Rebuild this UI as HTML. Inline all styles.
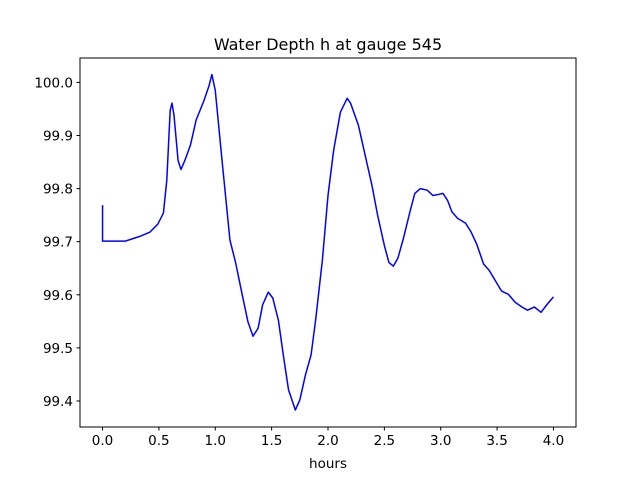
<!DOCTYPE html>
<html><head><meta charset="utf-8"><style>
body{margin:0;background:#fff;}
svg{display:block;font-family:"DejaVu Sans","Liberation Sans",sans-serif;}
</style></head><body>
<svg width="640" height="480" viewBox="0 0 640 480" xmlns="http://www.w3.org/2000/svg" id="chart">
<rect width="640" height="480" fill="#fff"/>
<text x="328" y="50" text-anchor="middle" font-size="16">Water Depth h at gauge 545</text>
<g id="plot"></g>
<text x="328" y="468" text-anchor="middle" font-size="13.5">hours</text>
</svg>
<script>
const times=[0,0,0.2,0.33,0.42,0.49,0.54,0.57,0.60,0.616,0.634,0.67,0.696,0.73,0.78,0.83,0.90,0.945,0.97,1.0,1.06,1.13,1.18,1.24,1.29,1.335,1.38,1.42,1.47,1.51,1.56,1.61,1.65,1.71,1.75,1.80,1.85,1.89,1.95,2.0,2.05,2.11,2.17,2.20,2.27,2.34,2.39,2.44,2.50,2.54,2.58,2.62,2.67,2.73,2.77,2.82,2.88,2.93,2.98,3.02,3.06,3.10,3.15,3.22,3.27,3.32,3.38,3.43,3.48,3.54,3.60,3.66,3.72,3.77,3.83,3.89,3.94,4.0];
const depth=[99.769,99.701,99.701,99.710,99.718,99.733,99.754,99.816,99.947,99.961,99.938,99.853,99.836,99.853,99.882,99.929,99.966,99.994,100.015,99.985,99.853,99.703,99.661,99.599,99.549,99.522,99.537,99.581,99.605,99.594,99.552,99.477,99.421,99.383,99.402,99.449,99.487,99.552,99.665,99.787,99.872,99.944,99.970,99.961,99.919,99.853,99.806,99.750,99.693,99.661,99.654,99.669,99.707,99.759,99.791,99.800,99.797,99.787,99.789,99.791,99.778,99.756,99.744,99.735,99.718,99.695,99.658,99.646,99.628,99.607,99.601,99.586,99.577,99.571,99.577,99.567,99.581,99.596];
const xTicks=[0,0.5,1,1.5,2,2.5,3,3.5,4];
const xTickLabels=["0.0","0.5","1.0","1.5","2.0","2.5","3.0","3.5","4.0"];
const yTicks=[99.4,99.5,99.6,99.7,99.8,99.9,100.0];
const yTickLabels=["99.4","99.5","99.6","99.7","99.8","99.9","100.0"];

const L=80,R=576,T=58,B=427;
const xMin=-0.2,xMax=4.2,yMin=99.351,yMax=100.046;
const xs=v=>L+(v-xMin)/(xMax-xMin)*(R-L);
const ys=v=>B-(v-yMin)/(yMax-yMin)*(B-T);
const NS="http://www.w3.org/2000/svg";
const g=document.getElementById('plot');
function mk(tag,attrs){const e=document.createElementNS(NS,tag);for(const k in attrs)e.setAttribute(k,attrs[k]);g.appendChild(e);return e;}

const line=mk('polyline',{points:times.map((t,i)=>xs(t).toFixed(2)+','+ys(depth[i]).toFixed(2)).join(' '),fill:'none',stroke:'#0000ff','stroke-width':1.5,'stroke-linejoin':'round'});



const frame=mk('rect',{x:L,y:T,width:R-L,height:B-T,fill:'none',stroke:'#000','stroke-width':1});



xTicks.forEach((v,i)=>{
  const x=xs(v);
  const tk=mk('line',{x1:x,x2:x,y1:B,y2:B+3.5,stroke:'#000'});
  
  
  const tx=mk('text',{x:x,y:B+18,'text-anchor':'middle','font-size':13.5});
  tx.textContent=xTickLabels[i];
  
  
});
yTicks.forEach((v,i)=>{
  const y=ys(v);
  const tk=mk('line',{x1:L-3.5,x2:L,y1:y,y2:y,stroke:'#000'});
  
  
  const tx=mk('text',{x:L-7,y:y+5,'text-anchor':'end','font-size':13.5});
  tx.textContent=yTickLabels[i];
  
  
});
</script>
</body></html>
